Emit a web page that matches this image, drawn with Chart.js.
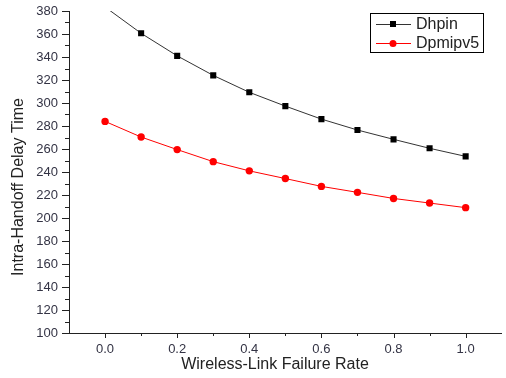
<!DOCTYPE html>
<html>
<head>
<meta charset="utf-8">
<script src="https://cdn.jsdelivr.net/npm/chart.js@4/dist/chart.umd.min.js"></script>
<style>
	body { margin: 0; background: #fff; }
	#chart { display: block; }
</style>
</head>
<body>
<canvas id="chart" width="506" height="378"></canvas>
<script>
// values
const rates = [0.0, 0.1, 0.2, 0.3, 0.4, 0.5, 0.6, 0.7, 0.8, 0.9, 1.0];
const dhpin = [383.5, 360.6, 341, 324, 309.3, 297.3, 286, 276.5, 268.4, 260.6, 253.6];
const dpmipv5 = [284, 270.4, 259.5, 249, 241, 234.3, 227.5, 222.3, 217, 213, 209];
const seriesNames = ["Dhpin", "Dpmipv5"];
const xTicks = [0.0, 0.1, 0.2, 0.3, 0.4, 0.5, 0.6, 0.7, 0.8, 0.9, 1.0];
const yTicks = [100, 110, 120, 130, 140, 150, 160, 170, 180, 190, 200, 210, 220, 230, 240, 250, 260, 270, 280, 290, 300, 310, 320, 330, 340, 350, 360, 370, 380];
const xTitle = "Wireless-Link Failure Rate";
const yTitle = "Intra-Handoff Delay Time";

const FONT = '"Liberation Sans", Arial, sans-serif';
const TICK_COLOR = '#333344';
const AXIS_COLOR = '#222';

function toPoints(ys) {
	return rates.map(function(x, i) {
		return { x: x, y: ys[i] };
	});
}

// tick marks, titles and the boxed legend are drawn here
const extras = {
	id: 'extras',
	afterDraw: function(chart) {
		const ctx = chart.ctx;
		const xs = chart.scales.x;
		const ys = chart.scales.y;
		const area = chart.chartArea;
		ctx.save();
		ctx.strokeStyle = AXIS_COLOR;
		ctx.lineWidth = 1;
		ctx.beginPath();
		yTicks.forEach(function(v) {
			const py = Math.round(ys.getPixelForValue(v)) + 0.5;
			const len = (v % 20 === 0) ? 7 : 4;
			ctx.moveTo(area.left - len, py);
			ctx.lineTo(area.left, py);
		});
		xTicks.forEach(function(v) {
			const px = Math.round(xs.getPixelForValue(v)) + 0.5;
			const len = (Math.round(v * 10) % 2 === 0) ? 5 : 3;
			ctx.moveTo(px, area.bottom);
			ctx.lineTo(px, area.bottom + len);
		});
		ctx.stroke();

		// axis titles
		ctx.fillStyle = '#222';
		ctx.font = '16px ' + FONT;
		ctx.textAlign = 'center';
		ctx.textBaseline = 'middle';
		ctx.fillText(xTitle, 275, 365);
		ctx.save();
		ctx.translate(19, 187);
		ctx.rotate(-Math.PI / 2);
		ctx.fillText(yTitle, 0, 0);
		ctx.restore();

		// legend box
		ctx.strokeStyle = '#000';
		ctx.strokeRect(370.5, 13.5, 113, 39);
		ctx.textAlign = 'left';
		chart.data.datasets.forEach(function(ds, i) {
			const ly = 24 + i * 19;
			ctx.strokeStyle = ds.borderColor;
			ctx.beginPath();
			ctx.moveTo(376, ly + 0.5);
			ctx.lineTo(411, ly + 0.5);
			ctx.stroke();
			ctx.fillStyle = ds.pointBackgroundColor;
			if (ds.pointStyle === 'rect') {
				ctx.fillRect(390, ly - 3, 6, 6);
			} else {
				ctx.beginPath();
				ctx.arc(393, ly + 0.5, 3.5, 0, Math.PI * 2);
				ctx.fill();
			}
			ctx.fillStyle = '#222';
			ctx.fillText(ds.label, 416, ly + 1);
		});
		ctx.restore();
	}
};

document.addEventListener("DOMContentLoaded", function(event) {
	const ctx = document.getElementById("chart");
	new Chart(ctx, {
		type: 'line',
		data: {
			datasets: [{
				label: seriesNames[0],
				data: toPoints(dhpin),
				borderColor: '#333',
				borderWidth: 1,
				pointStyle: 'rect',
				pointRadius: 4.3,
				pointBorderWidth: 0,
				pointBackgroundColor: '#000',
				tension: 0
			}, {
				label: seriesNames[1],
				data: toPoints(dpmipv5),
				borderColor: '#ff0000',
				borderWidth: 1,
				pointStyle: 'circle',
				pointRadius: 3.7,
				pointBorderWidth: 0,
				pointBackgroundColor: '#ff0000',
				tension: 0
			}]
		},
		options: {
			responsive: false,
			animation: false,
			layout: { padding: { top: 11, left: 0, right: 0, bottom: 0 } },
			plugins: {
				legend: { display: false },
				tooltip: { enabled: false }
			},
			scales: {
				x: {
					type: 'linear',
					min: -0.1,
					max: 1.1,
					afterBuildTicks: function(scale) {
						scale.ticks = xTicks.map(function(v) { return { value: v }; });
					},
					afterFit: function(scale) {
						scale.height = 45;
						scale.paddingLeft = 0;
						scale.paddingRight = 0;
					},
					grid: { display: false, drawTicks: false },
					border: { display: true, color: AXIS_COLOR, width: 1 },
					ticks: {
						autoSkip: false,
						maxRotation: 0,
						padding: 9,
						color: TICK_COLOR,
						font: { family: FONT, size: 13 },
						callback: function(value) {
							return (Math.round(value * 10) % 2 === 0) ? value.toFixed(1) : '';
						}
					}
				},
				y: {
					min: 100,
					max: 380,
					afterBuildTicks: function(scale) {
						scale.ticks = yTicks.map(function(v) { return { value: v }; });
					},
					afterFit: function(scale) {
						scale.width = 69;
						scale.paddingTop = 0;
						scale.paddingBottom = 0;
					},
					grid: { display: false, drawTicks: false },
					border: { display: true, color: AXIS_COLOR, width: 1 },
					ticks: {
						autoSkip: false,
						padding: 11,
						color: TICK_COLOR,
						font: { family: FONT, size: 13 },
						callback: function(value) {
							return (value % 20 === 0) ? String(value) : '';
						}
					}
				}
			}
		},
		plugins: [extras]
	});
});
</script>
</body>
</html>
